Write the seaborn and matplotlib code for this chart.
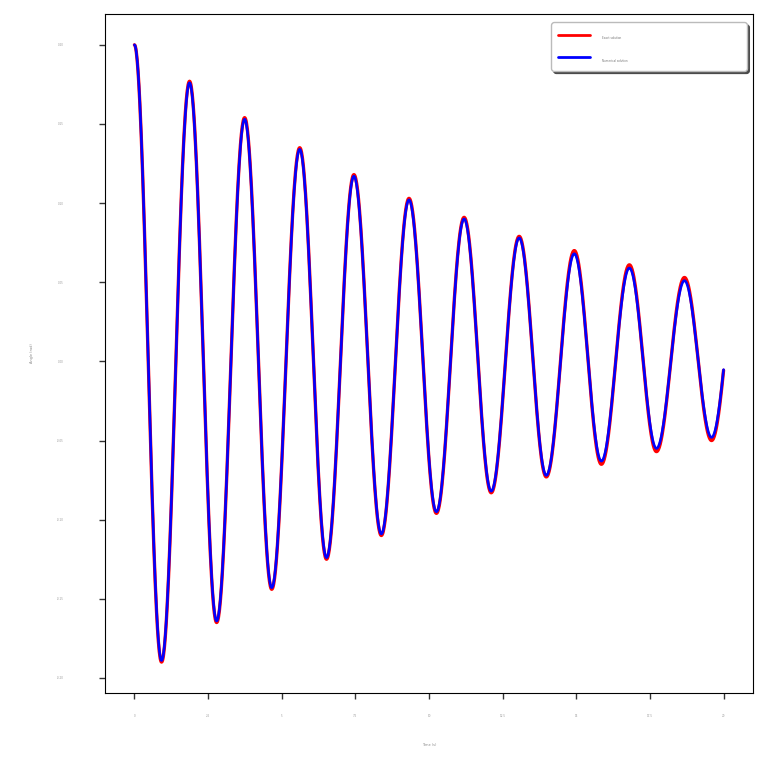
import numpy as np
import pandas as pd
import seaborn as sns
from matplotlib import pyplot as plt

# extrema (time in s, angle in rad)
t_ext = [0.0, 0.92, 1.87, 2.79, 3.74, 4.66, 5.61, 6.52, 7.45, 8.38, 9.32,
         10.25, 11.19, 12.11, 13.06, 13.98, 14.93, 15.85, 16.80, 17.72,
         18.67, 19.59, 20.53]
blue_ext = [0.200, -0.189, 0.176, -0.164, 0.153, -0.143, 0.134, -0.124,
            0.117, -0.109, 0.102, -0.095, 0.090, -0.082, 0.078, -0.072,
            0.068, -0.063, 0.059, -0.055, 0.051, -0.048, 0.060]
red_ext = [0.200, -0.190, 0.177, -0.165, 0.154, -0.144, 0.135, -0.125,
           0.118, -0.110, 0.103, -0.096, 0.091, -0.083, 0.079, -0.073,
           0.070, -0.065, 0.061, -0.057, 0.053, -0.050, 0.062]
t_end = 20.0

x_ticks = [0, 2.5, 5, 7.5, 10, 12.5, 15, 17.5, 20]
y_ticks = [-0.2, -0.15, -0.1, -0.05, 0.0, 0.05, 0.1, 0.15, 0.2]


def trace(ts, vs, n=60):
    # smooth half-cosine between consecutive extrema
    tt, vv = [], []
    for i in range(len(ts) - 1):
        s = np.linspace(0, 1, n, endpoint=False)
        tt.append(ts[i] + (ts[i + 1] - ts[i]) * s)
        vv.append(vs[i] + (vs[i + 1] - vs[i]) * (1 - np.cos(np.pi * s)) / 2)
    tt = np.concatenate(tt)
    vv = np.concatenate(vv)
    keep = tt <= t_end
    return tt[keep], vv[keep]


tr, vr = trace(t_ext, red_ext)
tb, vb = trace(t_ext, blue_ext)
df = pd.concat([
    pd.DataFrame({'time': tr, 'angle': vr, 'kind': 'Exact solution'}),
    pd.DataFrame({'time': tb, 'angle': vb, 'kind': 'Numerical solution'}),
])

sns.set_style('white')
fig = plt.figure(figsize=(7.68, 7.68), dpi=100)
ax = fig.add_axes([0.1367, 0.0977, 0.8438, 0.8841])

sns.lineplot(data=df[df.kind == 'Exact solution'], x='time', y='angle',
             color='red', linewidth=2.4, estimator=None, sort=False,
             label='Exact solution', ax=ax)
sns.lineplot(data=df[df.kind == 'Numerical solution'], x='time', y='angle',
             color='blue', linewidth=1.9, estimator=None, sort=False,
             label='Numerical solution', ax=ax)

ax.set_xticks(x_ticks)
ax.set_yticks(y_ticks)
ax.set_xticklabels([f'{v:g}' for v in x_ticks])
ax.set_yticklabels([f'{v:.2f}' for v in y_ticks])
ax.tick_params(axis='both', direction='out', length=4, width=1,
               color='#333333', labelsize=2, labelcolor='#999999')
ax.tick_params(axis='x', pad=11, bottom=True)
ax.tick_params(axis='y', pad=26, left=True)
ax.set_xlabel('Time (s)', fontsize=2.5, color='#888888', labelpad=18)
ax.set_ylabel('Angle (rad)', fontsize=2.5, color='#888888', labelpad=16)

for sp in ax.spines.values():
    sp.set_color('black')
    sp.set_linewidth(0.8)

leg = ax.legend(loc='upper right', bbox_to_anchor=(0.688, 0, 0.302, 0.988),
                mode='expand', borderaxespad=0, fontsize=10,
                frameon=True, shadow={'color': '0.25', 'alpha': 0.9},
                fancybox=True, handlelength=2.3, handletextpad=0.8,
                labelspacing=0.85, borderpad=0.55)
for txt in leg.get_texts():
    txt.set_fontsize(2)
    txt.set_color('#777777')
for line in leg.get_lines():
    line.set_linewidth(2)
leg.get_frame().set_edgecolor('#bbbbbb')

fig.savefig('out.png', dpi=100)
